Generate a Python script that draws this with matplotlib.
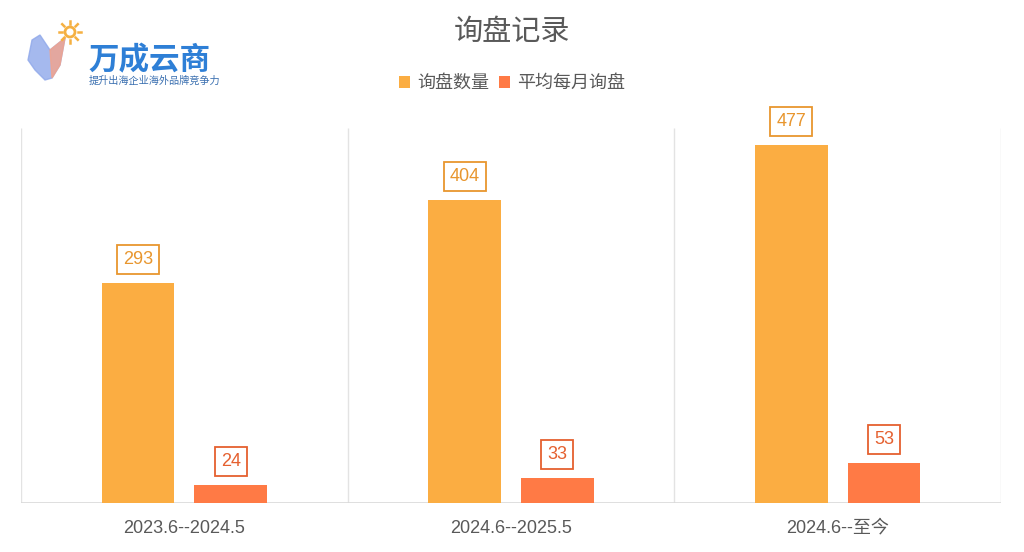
import numpy as np
import matplotlib
matplotlib.use("Agg")
from matplotlib import pyplot as plt
from matplotlib.patches import Circle

plt.rcParams['font.family'] = ['Noto Sans CJK SC', 'DejaVu Sans']

# data
categories = ["2023.6--2024.5", "2024.6--2025.5", "2024.6--至今"]
inquiries = [293, 404, 477]
monthly_avg = [24, 33, 53]
series_names = ["询盘数量", "平均每月询盘"]

ORANGE = "#FBAD42"
RED = "#FF7A45"
ORANGE_TXT = "#E8962E"
RED_TXT = "#E5602F"
GRAY_TXT = "#595959"


def main():
    fig = plt.figure(figsize=(10.24, 5.52), dpi=100)
    ax = fig.add_axes([21 / 1024, 49 / 552, 980 / 1024, 375 / 552])

    x = np.arange(len(categories))
    w = 0.223
    off = 0.142
    b1 = ax.bar(x - off, inquiries, w, color=ORANGE, label=series_names[0], zorder=3)
    b2 = ax.bar(x + off, monthly_avg, w, color=RED, label=series_names[1], zorder=3)

    # data labels in boxes
    for bars, vals, col in [(b1, inquiries, ORANGE_TXT), (b2, monthly_avg, RED_TXT)]:
        for rect, v in zip(bars, vals):
            ax.annotate(str(v), (rect.get_x() + rect.get_width() / 2, v),
                        xytext=(0, 17), textcoords="offset points",
                        ha="center", va="center", fontsize=13, color=col,
                        family=["Liberation Sans", "DejaVu Sans"],
                        bbox=dict(boxstyle="square,pad=0.33", fc="white", ec=col, lw=1.3))

    # category separators and baseline
    ax.vlines(np.arange(len(categories) + 1) - 0.5, 0, 500, color="#e3e3e3", lw=1, zorder=1)
    ax.axhline(0, color="#d9d9d9", lw=1.2, zorder=2)

    ax.set_xlim(-0.5, len(categories) - 0.5)
    ax.set_ylim(0, 500)
    ax.set_yticks([])
    ax.set_xticks(x)
    ax.set_xticklabels(categories, fontsize=13, color=GRAY_TXT,
                       family=["Liberation Sans", "Noto Sans CJK SC"])
    ax.tick_params(axis="x", length=0, pad=12)
    for s in ax.spines.values():
        s.set_visible(False)

    fig.text(0.5, 1 - 32 / 552, "询盘记录", ha="center", va="center", fontsize=21, color=GRAY_TXT)
    fig.legend(loc="center", bbox_to_anchor=(0.5, 1 - 83 / 552), ncol=2, frameon=False,
               fontsize=13, handlelength=0.65, handleheight=0.65, handletextpad=0.4,
               columnspacing=0.5, labelcolor=GRAY_TXT)

    # logo (simplified)
    lax = fig.add_axes([20 / 1024, 1 - 90 / 552, 70 / 1024, 75 / 552])
    lax.set_xlim(0, 70)
    lax.set_ylim(0, 75)
    lax.set_aspect("equal")
    lax.axis("off")
    sun_x, sun_y = 50, 58
    lax.add_patch(Circle((sun_x, sun_y), 5, fc="none", ec="#F5B041", lw=2))
    for a in np.linspace(0, 2 * np.pi, 9)[:-1]:
        lax.plot([sun_x + 8 * np.cos(a), sun_x + 11 * np.cos(a)],
                 [sun_y + 8 * np.sin(a), sun_y + 11 * np.sin(a)], color="#F5B041", lw=1.8)
    lax.fill([12, 20, 30, 45, 40, 32, 25, 15, 8], [50, 55, 40, 52, 25, 12, 10, 20, 30],
             color="#8fa8ea", alpha=0.8)
    lax.fill([30, 45, 40, 32], [40, 52, 25, 12], color="#f3a38c", alpha=0.8)

    fig.text(88 / 1024, 1 - 60 / 552, "万成云商", ha="left", va="center",
             fontsize=22, fontweight="bold", color="#2E7FD6")
    fig.text(89 / 1024, 1 - 81 / 552, "提升出海企业海外品牌竞争力", ha="left", va="center",
             fontsize=7.3, color="#3a6fb0")

    fig.savefig("out.png", dpi=100, facecolor="white")


if __name__ == '__main__':
    main()
